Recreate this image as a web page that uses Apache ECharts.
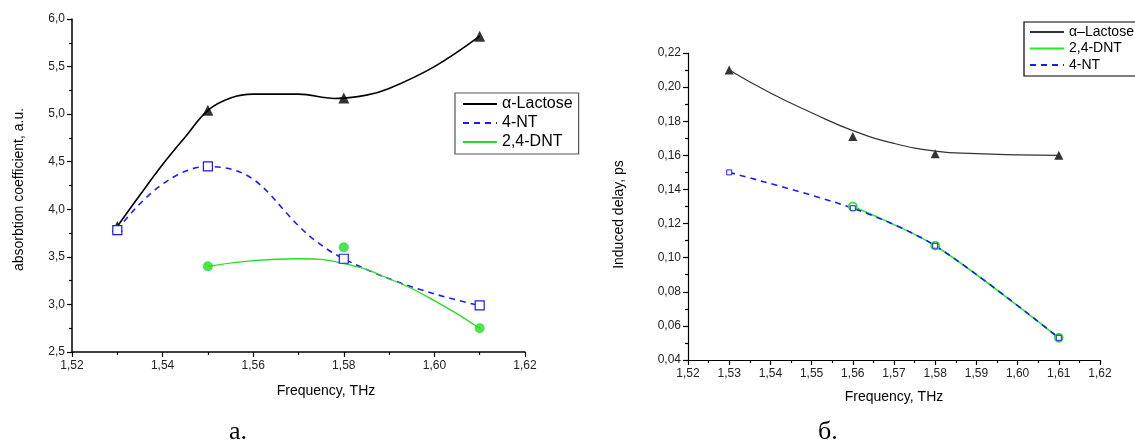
<!DOCTYPE html>
<html>
<head>
<meta charset="utf-8">
<script src="https://cdn.jsdelivr.net/npm/echarts@6/dist/echarts.min.js"></script>
<style>html,body{margin:0;padding:0;background:#fff}#c{width:1135px;height:442px}</style>
</head>
<body>
<div id="c"></div>
<script>
// ---- Data (panel a: absorption coefficient) ----
const aLactoseX = [1.53, 1.55, 1.58, 1.61];
const aLactoseY = [3.82, 5.04, 5.17, 5.82];
const aNtX = [1.53, 1.55, 1.58, 1.61];
const aNtY = [3.78, 4.45, 3.48, 2.99];
const aDntX = [1.55, 1.58, 1.61];
const aDntY = [3.40, 3.60, 2.75];
// fitted curves
const aLactoseFitX = [1.53, 1.535, 1.54, 1.545, 1.55, 1.555, 1.56, 1.57, 1.578, 1.585, 1.59, 1.60, 1.61];
const aLactoseFitY = [3.82, 4.15, 4.47, 4.76, 5.04, 5.17, 5.21, 5.21, 5.165, 5.2, 5.27, 5.50, 5.82];
const aDntFitX = [1.55, 1.56, 1.57, 1.58, 1.59, 1.60, 1.61];
const aDntFitY = [3.40, 3.46, 3.48, 3.43, 3.27, 3.04, 2.75];
// ---- Data (panel б: induced delay) ----
const bLactoseX = [1.53, 1.56, 1.58, 1.61];
const bLactoseY = [0.210, 0.171, 0.161, 0.160];
const bLactoseFitX = [1.53, 1.54, 1.55, 1.56, 1.57, 1.58, 1.59, 1.60, 1.61];
const bLactoseFitY = [0.210, 0.1965, 0.185, 0.1745, 0.167, 0.1625, 0.161, 0.1603, 0.160];
const bDntX = [1.56, 1.58, 1.61];
const bDntY = [0.130, 0.107, 0.053];
const bNtX = [1.53, 1.56, 1.58, 1.61];
const bNtY = [0.150, 0.129, 0.107, 0.053];
// ---- Labels ----
const aLegend = ['α-Lactose', '4-NT', '2,4-DNT'];
const bLegend = ['α–Lactose', '2,4-DNT ', '4-NT '];
const aTitles = {x: 'Frequency, THz', y: 'absorbtion coefficient, a.u.', caption: 'а.'};
const bTitles = {x: 'Frequency, THz', y: 'Induced delay, ps', caption: 'б.'};

const pairs = (xs, ys) => xs.map((x, i) => [x, ys[i]]);
const FONT = "'Liberation Sans', Arial, sans-serif";
const comma = d => v => v.toFixed(d).replace('.', ',');

const axisCommon = {
  axisLine: {lineStyle: {color: '#000', width: 1.5}},
  axisTick: {show: true, inside: false, length: 5, lineStyle: {color: '#000', width: 1.2}},
  minorTick: {show: true, splitNumber: 2, length: 3, lineStyle: {color: '#000', width: 1.2}},
  splitLine: {show: false},
  nameLocation: 'middle'
};

const chart = echarts.init(document.getElementById('c'), null, {renderer: 'canvas'});
chart.setOption({
  backgroundColor: '#fff',
  animation: false,
  textStyle: {fontFamily: FONT},
  grid: [
    {left: 72, top: 19, width: 453, height: 333},
    {left: 688, top: 53, width: 412, height: 307}
  ],
  xAxis: [
    Object.assign({}, axisCommon, {
      gridIndex: 0, type: 'value', min: 1.52, max: 1.62, interval: 0.02,
      name: aTitles.x, nameGap: 32,
      nameTextStyle: {fontSize: 14, color: '#000', fontFamily: FONT, padding: [0, 0, 0, 55]},
      axisLabel: {formatter: comma(2), fontSize: 12, color: '#222', fontFamily: FONT, margin: 8}
    }),
    Object.assign({}, axisCommon, {
      gridIndex: 1, type: 'value', min: 1.52, max: 1.62, interval: 0.01,
      name: bTitles.x, nameGap: 30,
      axisLine: {lineStyle: {color: '#000', width: 1.2}},
      nameTextStyle: {fontSize: 14, color: '#000', fontFamily: FONT},
      axisLabel: {formatter: comma(2), fontSize: 12, color: '#222', fontFamily: FONT, margin: 8}
    })
  ],
  yAxis: [
    Object.assign({}, axisCommon, {
      gridIndex: 0, type: 'value', min: 2.5, max: 6.0, interval: 0.5,
      name: aTitles.y, nameGap: 46,
      nameTextStyle: {fontSize: 14, color: '#000', fontFamily: FONT, padding: [0, 8, 0, 0]},
      axisLabel: {formatter: comma(1), fontSize: 12, color: '#222', fontFamily: FONT, margin: 7}
    }),
    Object.assign({}, axisCommon, {
      gridIndex: 1, type: 'value', min: 0.04, max: 0.22, interval: 0.02,
      name: bTitles.y, nameGap: 62,
      axisLine: {lineStyle: {color: '#000', width: 1.2}},
      nameTextStyle: {fontSize: 14, color: '#000', fontFamily: FONT, padding: [0, 16, 0, 0]},
      axisLabel: {formatter: comma(2), fontSize: 12, color: '#222', fontFamily: FONT, margin: 7}
    })
  ],
  legend: [
    {
      data: aLegend, orient: 'vertical', left: 455, top: 93,
      borderColor: '#555', borderWidth: 1.2, padding: [3, 6, 4, 7],
      itemWidth: 34, itemHeight: 12, itemGap: 3,
      itemStyle: {opacity: 0},
      textStyle: {fontSize: 16, color: '#000', fontFamily: FONT}
    },
    {
      data: bLegend, orient: 'vertical', left: 1024, top: 22,
      borderColor: '#000', borderWidth: 1.2, padding: [3, 6, 4, 5],
      itemWidth: 34, itemHeight: 12, itemGap: 2.5,
      itemStyle: {opacity: 0},
      textStyle: {fontSize: 14, color: '#000', fontFamily: FONT}
    }
  ],
  series: [
    // ---- panel a ----
    {
      name: aLegend[0], type: 'line', xAxisIndex: 0, yAxisIndex: 0,
      data: pairs(aLactoseFitX, aLactoseFitY), smooth: 0.4, symbol: 'none',
      lineStyle: {color: '#000', width: 1.6}, itemStyle: {color: '#000'}
    },
    {
      name: aLegend[0], type: 'scatter', xAxisIndex: 0, yAxisIndex: 0,
      data: pairs(aLactoseX, aLactoseY), symbol: 'triangle', symbolSize: 11,
      itemStyle: {color: '#000'}
    },
    {
      name: aLegend[1], type: 'line', xAxisIndex: 0, yAxisIndex: 0,
      data: pairs(aNtX, aNtY), smooth: 0.5,
      symbol: 'rect', symbolSize: 9,
      lineStyle: {color: '#1a1aff', width: 1.6, type: [6, 5]},
      itemStyle: {color: '#fff', borderColor: '#1a1aff', borderWidth: 1.2}
    },
    {
      name: aLegend[2], type: 'line', xAxisIndex: 0, yAxisIndex: 0,
      data: pairs(aDntFitX, aDntFitY), smooth: 0.5, symbol: 'none',
      lineStyle: {color: '#22dd22', width: 1.3}, itemStyle: {color: '#22dd22'}
    },
    {
      name: aLegend[2], type: 'scatter', xAxisIndex: 0, yAxisIndex: 0,
      data: pairs(aDntX, aDntY), symbol: 'circle', symbolSize: 10,
      itemStyle: {color: '#22dd22'}
    },
    // ---- panel б ----
    {
      name: bLegend[0], type: 'line', xAxisIndex: 1, yAxisIndex: 1,
      data: pairs(bLactoseFitX, bLactoseFitY), smooth: 0.5, symbol: 'none',
      lineStyle: {color: '#333', width: 1.2}, itemStyle: {color: '#333'}
    },
    {
      name: bLegend[0], type: 'scatter', xAxisIndex: 1, yAxisIndex: 1,
      data: pairs(bLactoseX, bLactoseY), symbol: 'triangle', symbolSize: 9,
      itemStyle: {color: '#000'}
    },
    {
      name: bLegend[1], type: 'line', xAxisIndex: 1, yAxisIndex: 1,
      data: pairs(bDntX, bDntY), smooth: 0.3,
      symbol: 'circle', symbolSize: 8,
      lineStyle: {color: '#22ee22', width: 1.6},
      itemStyle: {color: '#fff', borderColor: '#22dd22', borderWidth: 1.6}
    },
    {
      name: bLegend[2], type: 'line', xAxisIndex: 1, yAxisIndex: 1,
      data: pairs(bNtX, bNtY), smooth: 0.3,
      symbol: 'rect', symbolSize: 5,
      lineStyle: {color: '#1a1aff', width: 1.6, type: [6, 5]},
      itemStyle: {color: '#fff', borderColor: '#1a1aff', borderWidth: 1}
    }
  ],
  graphic: [
    {type: 'text', left: 229, top: 419, style: {text: aTitles.caption, font: "26px 'Liberation Serif', 'DejaVu Serif', serif", fill: '#000'}},
    {type: 'text', left: 818, top: 419, style: {text: bTitles.caption, font: "26px 'Liberation Serif', 'DejaVu Serif', serif", fill: '#000'}}
  ]
});
</script>
</body>
</html>
